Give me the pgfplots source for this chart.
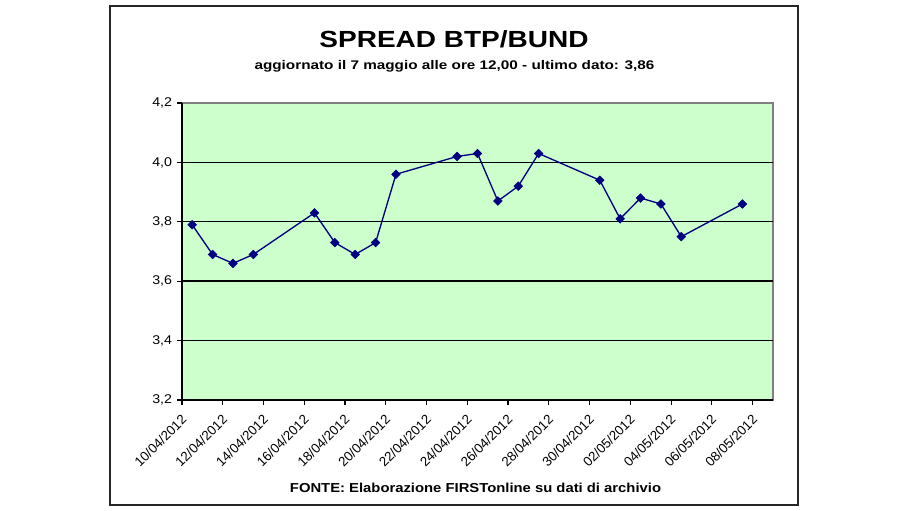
\documentclass[border=0pt]{standalone}
\usepackage{pgfplots}
\pgfplotsset{compat=1.18}
\usepackage{fontspec}
\setmainfont{Liberation Sans}
\definecolor{bggreen}{HTML}{CCFFCC}
\definecolor{linenavy}{HTML}{000080}
\begin{document}
\begin{tikzpicture}
\path[use as bounding box] (0pt,0pt) rectangle (690pt,382.5pt);
\draw[line width=1.5pt, black!85] (82.5pt,3.75pt) rectangle (598.5pt,378pt);
\begin{axis}[
  at={(136.5pt,82.5pt)}, anchor=south west,
  scale only axis, width=443.25pt, height=222.75pt,
  xmin=-0.5, xmax=28.5, ymin=3.2, ymax=4.2,
  axis x line*=bottom, axis y line*=left,
  axis line style={-, black, line width=1pt},
  axis background/.style={fill=bggreen, draw=gray, line width=0.9pt},
  xtick={-0.5,1.5,...,27.5},
  xticklabels={10/04/2012,12/04/2012,14/04/2012,16/04/2012,18/04/2012,20/04/2012,22/04/2012,24/04/2012,26/04/2012,28/04/2012,30/04/2012,02/05/2012,04/05/2012,06/05/2012,08/05/2012},
  ytick={3.2,3.4,...,4.21},
  extra y ticks={3.4,3.6,3.8,4.0},
  extra y tick labels={},
  extra y tick style={grid=major, major tick length=0pt},
  grid style={black, line width=1.05pt},
  tick align=outside, major tick length=3.5pt,
  tick style={black, line width=0.9pt},
  /pgf/number format/.cd, fixed, fixed zerofill, precision=1, use comma, assume math mode=true,
  /pgfplots/.cd,
  yticklabel style={font=\fontsize{9.5}{10}\selectfont, xscale=1.12},
  xticklabel style={font=\fontsize{10}{11}\selectfont, xshift=4pt, yshift=-7pt, rotate=45, anchor=east},
  clip=false,
]
\addplot[color=linenavy, line width=1pt, mark=square*, mark size=2.3pt,
  mark options={rotate=45, fill=linenavy, draw=linenavy, line width=0.4pt}] coordinates {
(0,3.79) (1,3.69) (2,3.66) (3,3.69) (6,3.83) (7,3.73) (8,3.69) (9,3.73)
(10,3.96) (13,4.02) (14,4.03) (15,3.87) (16,3.92) (17,4.03) (20,3.94)
(21,3.81) (22,3.88) (23,3.86) (24,3.75) (27,3.86)
};
\end{axis}
\node[font=\bfseries\fontsize{17.5}{20}\selectfont, xscale=1.2] at (340.5pt,353.25pt) {SPREAD BTP/BUND};
\node[font=\bfseries\fontsize{9.4}{11}\selectfont, xscale=1.22, anchor=base] at (340.875pt,330pt) {aggiornato il 7 maggio alle ore 12,00 - ultimo dato: 3,86};
\node[font=\bfseries\fontsize{9.75}{11}\selectfont, xscale=1.14, anchor=base] at (356.625pt,12.975pt) {FONTE: Elaborazione FIRSTonline su dati di archivio};
\end{tikzpicture}
\end{document}
